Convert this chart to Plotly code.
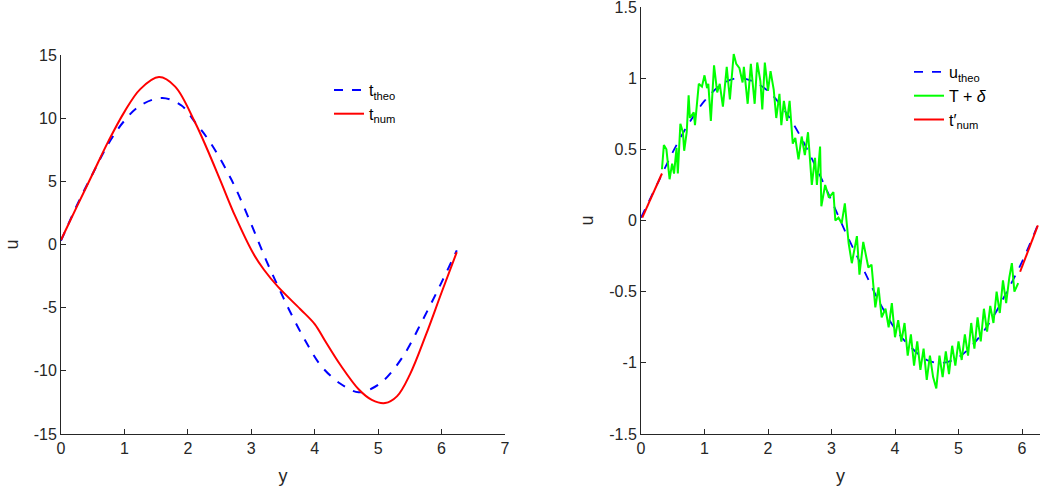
import plotly.graph_objects as go

# ---------------- Left panel data ----------------
L_theo_x = [0, 0.25, 0.5, 0.75, 1.0, 1.25, 1.6, 1.9, 2.11, 2.35, 2.69, 3.0, 3.23, 3.43, 3.6, 3.85,
            4.1, 4.4, 4.69, 4.9, 5.1, 5.4, 5.7, 6.0, 6.24]
L_theo_u = [0.3, 3.1, 5.6, 8.0, 9.8, 11.0, 11.6, 11.0, 9.7, 8.1, 5.1, 1.6, -1.2, -3.4, -5.2, -7.6,
            -9.6, -11.0, -11.7, -11.4, -10.7, -8.8, -6.0, -3.0, -0.46]
L_num_x = [0, 0.25, 0.5, 0.75, 1.0, 1.25, 1.545, 1.8, 2.11, 2.3, 2.51, 2.75, 3.03, 3.2, 3.43, 3.77,
           4.0, 4.16, 4.4, 4.7, 4.9, 5.11, 5.3, 5.5, 5.75, 6.0, 6.24]
L_num_u = [0.36, 3.0, 5.6, 8.2, 10.5, 12.3, 13.25, 12.5, 9.7, 7.6, 5.1, 2.2, -0.7, -2.0, -3.4, -5.1,
           -6.3, -7.6, -9.5, -11.5, -12.3, -12.55, -12.0, -10.3, -7.2, -3.8, -0.6]

# ---------------- Right panel data ----------------
R_theo_x = [0, 0.25, 0.5, 0.75, 1.0, 1.25, 1.5, 1.75, 2.0, 2.25, 2.5, 2.75, 3.0, 3.25, 3.5, 3.75,
            4.0, 4.25, 4.5, 4.75, 5.0, 5.25, 5.5, 5.75, 6.0, 6.25]
R_theo_u = [0.02, 0.25, 0.48, 0.68, 0.84, 0.95, 1.0, 0.98, 0.91, 0.78, 0.6, 0.38, 0.14, -0.11, -0.34,
            -0.57, -0.76, -0.89, -0.98, -1.0, -0.96, -0.86, -0.71, -0.51, -0.29, -0.03]

R_noisy_x = [0.33, 0.36, 0.40, 0.45, 0.49, 0.52, 0.56, 0.58, 0.62, 0.66, 0.68, 0.72, 0.75, 0.77, 0.83,
             0.85, 0.91, 0.96, 1.00, 1.04, 1.06, 1.10, 1.15, 1.20, 1.24, 1.29, 1.35, 1.40, 1.46, 1.50,
             1.55, 1.60, 1.62, 1.68, 1.73, 1.79, 1.83, 1.88, 1.91, 1.95, 2.00, 2.04, 2.09, 2.13, 2.18,
             2.21, 2.25, 2.30, 2.34, 2.39, 2.43, 2.48, 2.53, 2.58, 2.63, 2.69, 2.74, 2.77, 2.82, 2.84,
             2.90, 2.96, 3.03, 3.06, 3.11, 3.16, 3.21, 3.27, 3.32, 3.40, 3.44, 3.50, 3.58, 3.63, 3.69,
             3.74, 3.79, 3.85, 3.90, 3.95, 4.00, 4.05, 4.10, 4.15, 4.20, 4.25, 4.30, 4.35, 4.40, 4.45,
             4.50, 4.55, 4.60, 4.65, 4.70, 4.75, 4.80, 4.85, 4.90, 4.95, 5.00, 5.05, 5.10, 5.15, 5.20,
             5.25, 5.30, 5.35, 5.40, 5.45, 5.50, 5.55, 5.60, 5.65, 5.70, 5.75, 5.80, 5.84, 5.88, 5.94]
R_noisy_u = [0.36, 0.53, 0.50, 0.29, 0.40, 0.33, 0.51, 0.33, 0.68, 0.62, 0.49, 0.62, 0.88, 0.72, 0.76,
             0.67, 0.96, 0.94, 1.02, 0.93, 0.96, 0.70, 1.09, 0.90, 0.96, 0.80, 1.08, 0.85, 1.17, 1.10,
             1.07, 0.97, 1.08, 0.82, 1.10, 0.82, 1.11, 0.98, 0.78, 1.11, 0.91, 1.05, 0.92, 0.72, 0.89,
             0.67, 0.84, 0.70, 0.84, 0.54, 0.58, 0.43, 0.59, 0.46, 0.62, 0.25, 0.44, 0.25, 0.52, 0.10,
             0.25, 0.16, 0.20, 0.00, 0.02, -0.02, 0.12, -0.16, -0.30, -0.11, -0.38, -0.15, -0.33, -0.31, -0.61,
             -0.47, -0.68, -0.62, -0.75, -0.58, -0.82, -0.70, -0.85, -0.72, -0.95, -0.80, -1.02, -0.85, -1.05, -0.90,
             -1.12, -0.95, -1.10, -1.18, -0.95, -1.10, -0.92, -1.08, -0.88, -1.02, -0.85, -0.98, -0.80, -0.95, -0.72,
             -0.90, -0.68, -0.85, -0.62, -0.78, -0.60, -0.72, -0.50, -0.65, -0.42, -0.58, -0.40, -0.30, -0.50, -0.44]

R_num_x = [0.02, 0.33, None, 5.97, 6.25]
R_num_u = [0.02, 0.33, None, -0.36, -0.035]

L_xticks = [0, 1, 2, 3, 4, 5, 6, 7]
L_yticks = [-15, -10, -5, 0, 5, 10, 15]
R_xticks = [0, 1, 2, 3, 4, 5, 6]
R_yticks = [-1.5, -1, -0.5, 0, 0.5, 1, 1.5]
R_ytick_text = ["-1.5", "-1", "-0.5", "0", "0.5", "1", "1.5"]
L_ytick_text = ["-15", "-10", "-5", "0", "5", "10", "15"]

BLUE = "#0000ff"
RED = "#ff0000"
GREEN = "#00ff00"
AX = "#262626"
FONT = "Liberation Sans"

fig = go.Figure()
fig.add_trace(go.Scatter(x=L_theo_x, y=L_theo_u, mode="lines", line=dict(color=BLUE, width=2, dash="dash", shape="spline"),
                         name="t<sub>theo</sub>", xaxis="x", yaxis="y", legend="legend"))
fig.add_trace(go.Scatter(x=L_num_x, y=L_num_u, mode="lines", line=dict(color=RED, width=2, shape="spline"),
                         name="t<sub>num</sub>", xaxis="x", yaxis="y", legend="legend"))

fig.add_trace(go.Scatter(x=R_theo_x, y=R_theo_u, mode="lines", line=dict(color=BLUE, width=1.8, dash="dash", shape="spline"),
                         name="u<sub>theo</sub>", xaxis="x2", yaxis="y2", legend="legend2"))
fig.add_trace(go.Scatter(x=R_noisy_x, y=R_noisy_u, mode="lines", line=dict(color=GREEN, width=2),
                         name="T + <i>δ</i>", xaxis="x2", yaxis="y2", legend="legend2"))
fig.add_trace(go.Scatter(x=R_num_x, y=R_num_u, mode="lines", line=dict(color=RED, width=2),
                         name="t′<sub>num</sub>", xaxis="x2", yaxis="y2", legend="legend2"))

W, H = 1047, 495

def px_x(p):
    return p / W

def px_y(p):
    return (H - p) / H

axis_common = dict(showline=True, linecolor=AX, linewidth=1, ticks="inside", ticklen=5, tickcolor=AX,
                   showgrid=False, zeroline=False, mirror=False, automargin=False,
                   ticklabeloverflow="allow",
                   tickfont=dict(family=FONT, size=16, color=AX))

fig.update_layout(
    width=W, height=H,
    margin=dict(l=0, r=0, t=0, b=0),
    paper_bgcolor="white", plot_bgcolor="white",
    font=dict(family=FONT, size=16, color=AX),
    xaxis=dict(domain=[px_x(61), px_x(505)], range=[0, 7], tickvals=L_xticks, anchor="y",
               title=dict(text="y", font=dict(size=18), standoff=13), **axis_common),
    yaxis=dict(domain=[px_y(434), px_y(55)], range=[-15, 15], tickvals=L_yticks, ticktext=L_ytick_text, anchor="x",
               title=dict(text="u", font=dict(size=18), standoff=10), **axis_common),
    xaxis2=dict(domain=[px_x(641), px_x(1040)], range=[0, 6.2832], tickvals=R_xticks, anchor="y2",
                title=dict(text="y", font=dict(size=18), standoff=13), **axis_common),
    yaxis2=dict(domain=[px_y(434), px_y(7)], range=[-1.5, 1.5], tickvals=R_yticks, ticktext=R_ytick_text, anchor="x2",
                title=dict(text="u", font=dict(size=18), standoff=10), **axis_common),
    legend=dict(x=px_x(329), y=px_y(73), xanchor="left", yanchor="top", bgcolor="rgba(0,0,0,0)",
                font=dict(family=FONT, size=16, color="black"), tracegroupgap=0),
    legend2=dict(x=px_x(909), y=px_y(55), xanchor="left", yanchor="top", bgcolor="rgba(0,0,0,0)",
                 font=dict(family=FONT, size=16, color="black"), tracegroupgap=0),
    showlegend=True,
)

fig.write_html("out.html", config={"displayModeBar": False},
               post_script="document.body.style.margin='0';document.body.style.overflow='hidden';")
